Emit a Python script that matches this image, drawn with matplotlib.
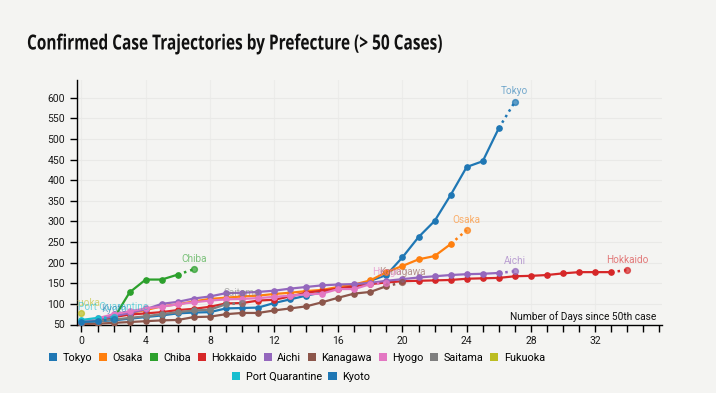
import matplotlib
matplotlib.use("Agg")
import matplotlib.pyplot as plt
from matplotlib.patches import Patch
from matplotlib.patheffects import AbstractPathEffect
from matplotlib.transforms import Affine2D
import numpy as np

# cumulative confirmed cases, indexed by days since the 50th case
TOKYO = [56, 58, 60, 64, 68, 72, 77, 79, 80, 89, 90, 91, 102, 111, 120, 128, 138, 141,
         156, 170, 213, 262, 301, 364, 432, 446, 526, 590]
OSAKA = [55, 62, 70, 78, 85, 94, 99, 106, 112, 115, 118, 120, 124, 127, 131, 134, 141,
         147, 157, 177, 192, 208, 216, 245, 279]
CHIBA = [56, 60, 64, 128, 159, 159, 171, 184]
HOKKAIDO = [57, 63, 68, 74, 77, 80, 85, 88, 93, 101, 102, 108, 110, 118, 127, 132, 137,
            143, 148, 152, 155, 156, 157, 158, 161, 162, 163, 167, 168, 170, 174, 177,
            177, 177, 182]
AICHI = [58, 62, 70, 78, 87, 100, 105, 113, 118, 126, 127, 129, 132, 137, 141, 145, 147,
         148, 151, 156, 160, 164, 167, 170, 172, 173, 175, 179]
KANAGAWA = [51, 52, 54, 56, 58, 60, 61, 68, 69, 75, 78, 78, 84, 89, 94, 104, 115, 125,
            129, 143, 152]
HYOGO = [55, 65, 75, 82, 89, 93, 99, 104, 108, 111, 112, 114, 117, 120, 123, 125, 136,
         136, 148, 151]
SAITAMA = [55, 58, 62, 66, 70, 75, 80, 84, 86, 99, 102]
FUKUOKA = [77]
PORT_QUARANTINE = [61, 66, 67]
KYOTO = [56, 58, 63]

NAMES = ["Tokyo", "Osaka", "Chiba", "Hokkaido", "Aichi", "Kanagawa", "Hyogo",
         "Saitama", "Fukuoka", "Port Quarantine", "Kyoto"]
SERIES = [TOKYO, OSAKA, CHIBA, HOKKAIDO, AICHI, KANAGAWA, HYOGO, SAITAMA, FUKUOKA,
          PORT_QUARANTINE, KYOTO]
COLORS = ["#1f77b4", "#ff7f0e", "#2ca02c", "#d62728", "#9467bd", "#8c564b", "#e377c2",
          "#7f7f7f", "#bcbd22", "#17becf", "#1f77b4"]

BG = "#f4f4f2"
plt.rcParams["font.family"] = ["Roboto", "DejaVu Sans"]


class Squeeze(AbstractPathEffect):
    """Horizontally condense text about a fixed x (display px) - fakes a condensed face."""

    def __init__(self, sx, x0):
        super().__init__()
        self.sx, self.x0 = sx, x0

    def draw_path(self, renderer, gc, tpath, affine, rgbFace=None):
        squeeze = Affine2D().translate(-self.x0, 0).scale(self.sx, 1).translate(self.x0, 0)
        renderer.draw_path(gc, tpath, affine + squeeze, rgbFace)


fig = plt.figure(figsize=(7.16, 3.93), dpi=100, facecolor=BG)
ax = fig.add_axes([77 / 716, 1 - 324.5 / 393, (662 - 77) / 716, (324.5 - 80) / 393])
ax.set_facecolor(BG)

for name, vals, c in zip(NAMES, SERIES, COLORS):
    x = np.arange(len(vals))
    y = np.asarray(vals)
    if len(vals) > 1:
        ax.plot(x[:-1], y[:-1], color=c, lw=1.6, marker="o", ms=3.8, zorder=3)
        ax.plot(x[-2:], y[-2:], color=c, lw=1.8, ls=(0, (1, 1.6)), zorder=3)
    ax.plot(x[-1], y[-1], "o", color=c, ms=4.2, alpha=0.7, zorder=3)
    ax.annotate(name, (x[-1], y[-1]), xytext=(0, 7.5), textcoords="offset points",
                ha="center", va="center", fontsize=7.2, color=c, alpha=0.6,
                annotation_clip=False, clip_on=True, zorder=4)

ax.set_xlim(-0.28, 36.17)
ax.set_ylim(50, 643)
ax.set_xticks(np.arange(0, 33, 4))
ax.set_xticks(np.arange(0, 37, 1), minor=True)
ax.set_yticks(np.arange(50, 601, 50))
ax.tick_params(axis="both", labelsize=7.5, colors="black", labelcolor="#1a1a1a",
               length=5, width=1)
ax.tick_params(axis="x", which="minor", length=5, width=1)
ax.grid(axis="y", color="#e9e9e7", lw=0.8, zorder=0)
ax.grid(axis="x", which="major", color="#ececea", lw=0.8, zorder=0)
for s in ["top", "right"]:
    ax.spines[s].set_visible(False)
for s in ["left", "bottom"]:
    ax.spines[s].set_color("black")
    ax.spines[s].set_linewidth(1)

ax.text(0.99, 0.012, "Number of Days since 50th case", transform=ax.transAxes,
        ha="right", va="bottom", fontsize=7.3, color="#111111")

fig.text(27 / 716, 1 - 49.5 / 393, "Confirmed Case Trajectories by Prefecture (> 50 Cases)",
         fontsize=15, fontweight="bold", family=["Open Sans", "DejaVu Sans"],
         ha="left", va="baseline", color="#111111",
         path_effects=[Squeeze(0.74, 27)])

handles = [Patch(facecolor=c, edgecolor="none") for c in COLORS]
leg_kw = dict(frameon=False, fontsize=7.8, handlelength=0.75, handleheight=0.75,
              handletextpad=0.5, columnspacing=0.62, borderaxespad=0)
fig.legend(handles[:9], NAMES[:9], ncol=9, loc="center",
           bbox_to_anchor=(297 / 716, 1 - 358 / 393), **leg_kw)
fig.legend(handles[9:], NAMES[9:], ncol=2, loc="center",
           bbox_to_anchor=(301 / 716, 1 - 377 / 393), **leg_kw)

fig.savefig("out.png", dpi=100, facecolor=BG)
